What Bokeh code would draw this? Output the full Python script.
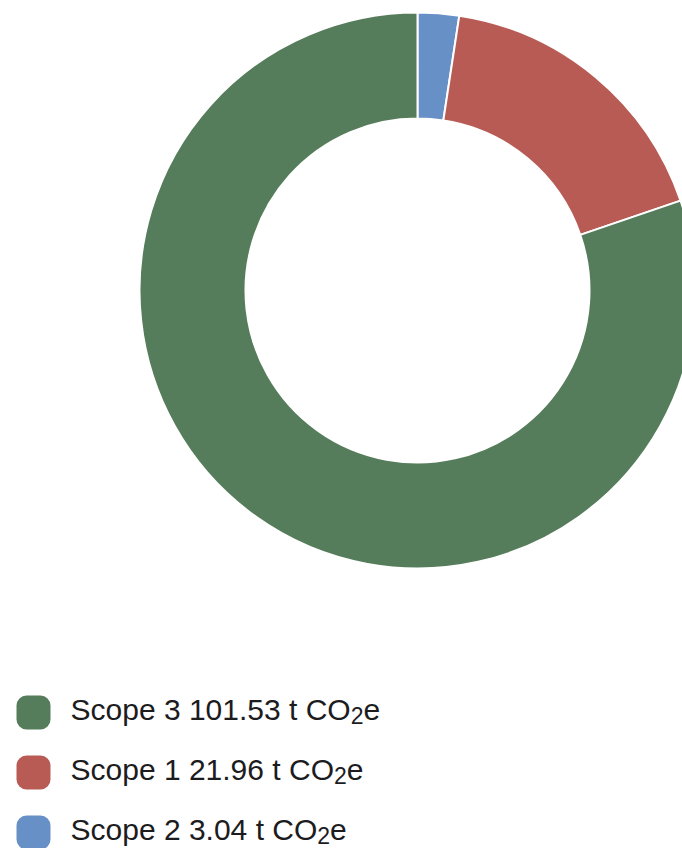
import numpy as np
from bokeh.plotting import figure
from bokeh.models import ColumnDataSource, Range1d
from bokeh.core.properties import value
from bokeh.embed import file_html
from bokeh.resources import INLINE

# Data
scopes = ["Scope 2", "Scope 1", "Scope 3"]          # clockwise order from 12 o'clock
emissions = [3.04, 21.96, 101.53]
colors = ["#6790c7", "#b85b54", "#567d5b"]
unit_main, unit_sub, unit_tail = "t CO", "2", "e"

W, H = 682, 848
p = figure(width=W, height=H, output_backend="svg", toolbar_location=None,
           x_range=Range1d(0, W), y_range=Range1d(0, H), min_border=0)
p.axis.visible = False
p.grid.visible = False
p.outline_line_color = None
p.background_fill_color = "white"
p.border_fill_color = "white"

vals = np.array(emissions)
frac = vals / vals.sum()
cum_end = np.cumsum(frac) * 2 * np.pi
cum_start = cum_end - frac * 2 * np.pi
start = np.pi / 2 - cum_end
end = np.pi / 2 - cum_start

cx, cy = 417, H - 290
src = ColumnDataSource(dict(start=start, end=end, color=colors))
p.annular_wedge(x=cx, y=cy, inner_radius=172, outer_radius=278,
                start_angle="start", end_angle="end", fill_color="color",
                line_color="white", line_width=2, source=src)

# Text width helper (Liberation Sans = Arial metrics, per 1000 em)
AW = {" ": 278, ".": 278, "S": 667, "C": 722, "O": 778, "c": 500, "o": 556,
      "p": 556, "e": 556, "t": 278}
def width(s, fs):
    return sum(AW.get(ch, 556) for ch in s) * fs / 1000.0

FS, SUB_FS = 30, 23
FONT = "Liberation Sans"

order = np.argsort(vals)[::-1]
row_c = [H - 712 - 60 * i for i in range(len(order))]
mains = [f"{scopes[i]} {emissions[i]:.2f} {unit_main}" for i in order]
x0 = 70
sub_x = [x0 + width(m, FS) for m in mains]
tail_x = [sx + width(unit_sub, SUB_FS) for sx in sub_x]
leg_src = ColumnDataSource(dict(
    yc=row_c, yb=[y + 3 for y in row_c], ys=[y - 3 for y in row_c],
    main=mains, sub=[unit_sub] * len(order), tail=[unit_tail] * len(order),
    sx=sub_x, tx=tail_x, color=[colors[i] for i in order]))
p.rect(x=33, y="yc", width=34, height=34, fill_color="color", line_color=None,
       border_radius=10, source=leg_src)
common = dict(text_font=value(FONT), text_baseline="alphabetic",
              text_color="#1c1c1e", source=leg_src)
p.text(x=x0, y="yb", text="main", text_font_size=f"{FS}px", **common)
p.text(x="sx", y="ys", text="sub", text_font_size=f"{SUB_FS}px", **common)
p.text(x="tx", y="yb", text="tail", text_font_size=f"{FS}px", **common)

open("out.html", "w").write(file_html(p, INLINE))
